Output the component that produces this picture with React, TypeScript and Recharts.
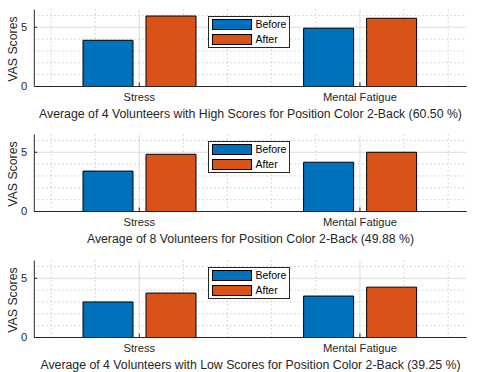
import { BarChart, Bar, XAxis, YAxis, CartesianGrid, Legend } from 'recharts';

const categories = ['Stress', 'Mental Fatigue'];
const seriesNames = ['Before', 'After'];
const seriesColors = ['#0072BD', '#D95319'];

const highBefore = [3.9, 4.92];
const highAfter = [5.95, 5.76];
const allBefore = [3.41, 4.16];
const allAfter = [4.83, 5.0];
const lowBefore = [3.0, 3.5];
const lowAfter = [3.75, 4.25];

const panelTitles = [
  'Average of 4 Volunteers with High Scores for Position Color 2-Back (60.50 %)',
  'Average of 8 Volunteers for Position Color 2-Back (49.88 %)',
  'Average of 4 Volunteers with Low Scores for Position Color 2-Back (39.25 %)',
];

const yTicks = [0, 5];
const yMinor = [1, 2, 3, 4, 6];
const xTicks = [1, 2];
const xMinor = [0.6, 0.8, 1.2, 1.4, 1.6, 1.8, 2.2, 2.4];
const yDomain = [0, 6.5];
const xDomain = [0.524, 2.484];

const FONT = '"Liberation Sans", Arial, Helvetica, sans-serif';
const AXIS = '#262626';

const panels = [
  { title: panelTitles[0], before: highBefore, after: highAfter },
  { title: panelTitles[1], before: allBefore, after: allAfter },
  { title: panelTitles[2], before: lowBefore, after: lowAfter },
];
const panelTops = [0, 125, 251];

const YLabel = (props: any) => {
  const vb = props.viewBox || { x: 0, y: 0, width: 0, height: 0 };
  const cy = vb.y + vb.height / 2 + 1;
  return (
    <text
      x={17.3}
      y={cy}
      transform={`rotate(-90, 17.3, ${cy})`}
      textAnchor="middle"
      fill={AXIS}
      fontSize={12.3}
      fontFamily={FONT}
    >
      VAS Scores
    </text>
  );
};

const LegendBox = () => (
  <div
    style={{
      position: 'relative',
      boxSizing: 'border-box',
      width: 82,
      height: 32,
      border: `1px solid ${AXIS}`,
      background: '#fff',
      fontFamily: FONT,
      fontSize: 10.5,
      color: '#000',
    }}
  >
    {seriesNames.map((name, i) => (
      <div key={name} style={{ position: 'absolute', left: 3, top: 1.5 + i * 15, height: 12, width: 76 }}>
        <div
          style={{
            position: 'absolute',
            left: 0,
            top: 0.5,
            width: 40,
            height: 11,
            boxSizing: 'border-box',
            border: '1px solid #000',
            background: seriesColors[i],
          }}
        />
        <span style={{ position: 'absolute', left: 43.5, top: 0, lineHeight: '12px' }}>{name}</span>
      </div>
    ))}
  </div>
);

function Panel({ title, before, after }: { title: string; before: number[]; after: number[] }) {
  const data = categories.map((name, i) => ({ x: i + 1, name, before: before[i], after: after[i] }));
  const tickStyle = { fill: AXIS, fontSize: 11.2, fontFamily: FONT };
  return (
    <BarChart
      width={477}
      height={125}
      data={data}
      margin={{ top: 9.5, right: 10.3, bottom: 0, left: 0 }}
      barSize={50}
      barGap={13}
    >
      <CartesianGrid
        horizontalValues={yMinor}
        verticalValues={xMinor}
        stroke="#b4b4b4"
        strokeDasharray="1 3"
      />
      <CartesianGrid horizontalValues={[5]} verticalValues={xTicks} stroke="#dcdcdc" />
      <XAxis
        type="number"
        dataKey="x"
        domain={xDomain}
        allowDataOverflow
        ticks={xTicks}
        interval={0}
        tickFormatter={(v: number) => categories[v - 1]}
        height={38.5}
        tickSize={-4}
        tickMargin={11}
        stroke={AXIS}
        tick={tickStyle}
        label={{ value: title, position: 'insideBottom', offset: 7.5, fill: AXIS, fontSize: 12.3, fontFamily: FONT }}
      />
      <XAxis
        xAxisId="top"
        orientation="top"
        type="number"
        domain={xDomain}
        allowDataOverflow
        ticks={xTicks}
        interval={0}
        tickFormatter={() => ''}
        height={0}
        tickSize={-4}
        stroke={AXIS}
      />
      <YAxis
        domain={yDomain}
        ticks={yTicks}
        interval={0}
        width={34.3}
        tickSize={-3}
        tickMargin={10}
        stroke={AXIS}
        tick={tickStyle}
        label={<YLabel />}
      />
      <YAxis
        yAxisId="right"
        orientation="right"
        domain={yDomain}
        ticks={yTicks}
        interval={0}
        width={0}
        tickSize={-3}
        tickFormatter={() => ''}
        stroke={AXIS}
      />
      <Legend
        layout="horizontal"
        verticalAlign="middle"
        wrapperStyle={{ top: 15.5, left: 208, width: 'auto', height: 'auto' }}
        content={<LegendBox />}
      />
      <Bar dataKey="before" name={seriesNames[0]} fill={seriesColors[0]} stroke="#000" strokeWidth={1} isAnimationActive={false} />
      <Bar dataKey="after" name={seriesNames[1]} fill={seriesColors[1]} stroke="#000" strokeWidth={1} isAnimationActive={false} />
    </BarChart>
  );
}

export default function App() {
  return (
    <div style={{ position: 'absolute', left: 0, top: 0, width: 477, height: 372, background: '#fff' }}>
      {panels.map((p, i) => (
        <div key={i} style={{ position: 'absolute', left: 0, top: panelTops[i] }}>
          <Panel title={p.title} before={p.before} after={p.after} />
        </div>
      ))}
    </div>
  );
}
